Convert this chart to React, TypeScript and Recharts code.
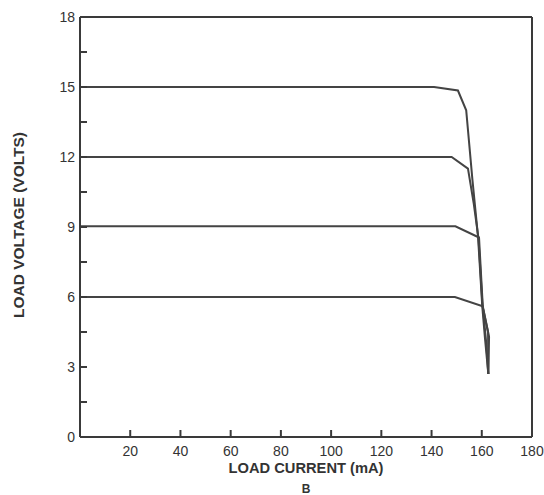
import React from 'react';
import { LineChart, Line, XAxis, YAxis, ReferenceLine, Label } from 'recharts';

const xTicks = [20, 40, 60, 80, 100, 120, 140, 160, 180];
const yTicks = [0, 1.5, 3, 4.5, 6, 7.5, 9, 10.5, 12, 13.5, 15, 16.5, 18];

const curve15 = [
  { x: 0, y: 15 }, { x: 141, y: 15 }, { x: 150.5, y: 14.85 }, { x: 153.8, y: 14.0 },
  { x: 156.3, y: 11.0 }, { x: 158.5, y: 8.6 }, { x: 160.2, y: 5.6 }, { x: 161.3, y: 4.2 }, { x: 162.6, y: 2.7 },
];
const curve12 = [
  { x: 0, y: 12 }, { x: 148, y: 12 }, { x: 154.5, y: 11.5 }, { x: 156.8, y: 10.0 },
  { x: 158.7, y: 8.5 }, { x: 160.3, y: 5.6 }, { x: 162.9, y: 4.3 }, { x: 162.6, y: 2.7 },
];
const curve9 = [
  { x: 0, y: 9.03 }, { x: 149.5, y: 9.03 }, { x: 158.9, y: 8.55 }, { x: 160.4, y: 5.6 },
  { x: 161.8, y: 4.0 }, { x: 162.6, y: 2.7 },
];
const curve6 = [
  { x: 0, y: 6 }, { x: 149.3, y: 6 }, { x: 160.4, y: 5.6 }, { x: 162.5, y: 4.5 }, { x: 162.6, y: 2.7 },
];

const ink = '#3a3a3a';
const font = 'Liberation Sans, Arial, sans-serif';

export default function App() {
  return (
    <div style={{ position: 'absolute', left: 0, top: 0, background: '#fff' }}>
      <LineChart width={544} height={495} margin={{ top: 17, right: 12, bottom: 0, left: 0 }}>
        <XAxis
          type="number"
          dataKey="x"
          domain={[0, 180]}
          ticks={xTicks}
          height={58}
          tickSize={-7}
          tickMargin={16}
          stroke={ink}
          strokeWidth={2}
          tick={{ fill: '#333', fontSize: 14, fontFamily: font }}
          allowDataOverflow
        >
          <Label value="LOAD CURRENT (mA)" position="insideTop" offset={26} fill="#333" fontSize={14.7} fontWeight="bold" fontFamily={font} />
          <Label value="B" position="insideBottom" offset={2} fill="#333" fontSize={12} fontWeight="bold" fontFamily={font} />
        </XAxis>
        <YAxis
          type="number"
          domain={[0, 18]}
          ticks={yTicks}
          width={80}
          tickSize={-7}
          tickMargin={12}
          stroke={ink}
          strokeWidth={2}
          interval={0}
          tickFormatter={(v: number) => (v % 3 === 0 ? String(v) : '')}
          tick={{ fill: '#333', fontSize: 14, fontFamily: font }}
        >
          <Label
            content={() => (
              <text x={20} y={225} transform="rotate(-90 20 225)" textAnchor="middle" dominantBaseline="middle" fill="#333" fontSize={15.5} fontWeight="bold" fontFamily={font}>
                LOAD VOLTAGE (VOLTS)
              </text>
            )}
          />
        </YAxis>
        <ReferenceLine y={18} stroke={ink} strokeWidth={2} />
        <ReferenceLine x={180} stroke={ink} strokeWidth={2} />
        {[curve15, curve12, curve9, curve6].map((d, i) => (
          <Line key={i} data={d} dataKey="y" type="linear" stroke="#444" strokeWidth={2} dot={false} isAnimationActive={false} />
        ))}
      </LineChart>
    </div>
  );
}
